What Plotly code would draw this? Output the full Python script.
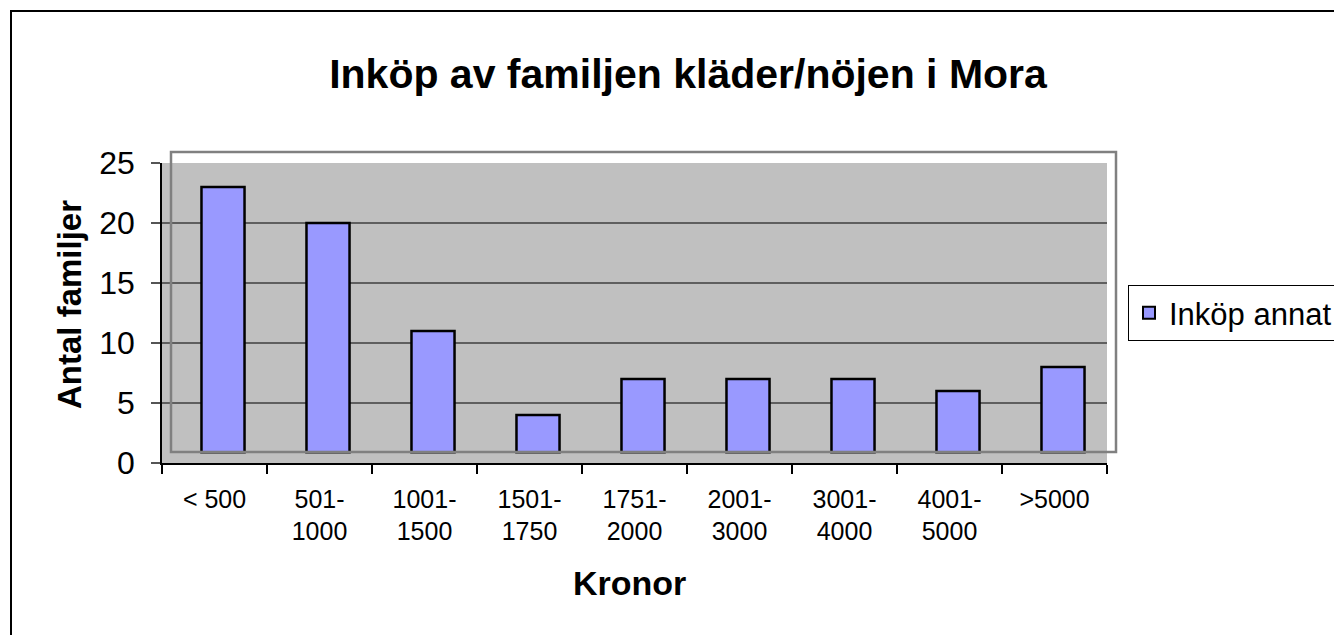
import plotly.graph_objects as go

categories = ["< 500", "501-<br>1000", "1001-<br>1500", "1501-<br>1750", "1751-<br>2000",
              "2001-<br>3000", "3001-<br>4000", "4001-<br>5000", ">5000"]
values = [23, 20, 11, 4, 7, 7, 7, 6, 8]
series_name = "Inköp annat"
y_ticks = [0, 5, 10, 15, 20, 25]

W, H = 1342, 635
OFF = 8  # page offset of the figure in the screenshot
# plot-area edges in screenshot pixels
L, R, T, B = 162, 1107, 163, 463
pw, ph = R - L, B - T

def px(x):
    return (x - L) / pw

def py(y):
    return (B - y) / ph

FONT = "Liberation Sans, Arial, sans-serif"
shift = 8.5 / (pw / len(categories))
BASE = 0.9

fig = go.Figure()
fig.add_trace(go.Bar(x=categories, y=[None] * len(categories), showlegend=False,
                     hoverinfo="skip", xaxis="x", yaxis="y"))
fig.add_trace(go.Bar(
    x=list(range(len(categories))), y=[v - BASE for v in values], name=series_name,
    base=BASE, width=0.41,
    marker=dict(color="#9999ff", line=dict(color="black", width=2.5)),
    xaxis="x2", yaxis="y",
))

fig.update_layout(
    width=W, height=H,
    margin=dict(l=L - OFF, r=W - (R - OFF), t=T - OFF, b=H - (B - OFF), autoexpand=False),
    paper_bgcolor="white", plot_bgcolor="#c0c0c0",
    font=dict(family=FONT, color="black"),
    showlegend=True,
    legend=dict(x=px(1128), xanchor="left", y=py(313), yanchor="middle",
                bordercolor="black", borderwidth=1, bgcolor="white",
                font=dict(size=31, family=FONT), itemsizing="constant",
                tracegroupgap=0),
    title=dict(text="<b>Inköp av familjen kläder/nöjen i Mora</b>", x=(688 - OFF) / W, xanchor="center",
               y=1 - (74 - OFF) / H, yanchor="middle", font=dict(size=41, family=FONT)),
    xaxis=dict(type="category", range=[-0.5, len(categories) - 0.5],
               showline=True, linecolor="black", linewidth=1.5,
               ticks="outside", ticklen=9, tickcolor="black", tickwidth=1.5,
               tickson="boundaries", showgrid=False, zeroline=False,
               tickfont=dict(size=25, family=FONT), ticklabelstandoff=13),
    xaxis2=dict(overlaying="x", range=[-0.5 - shift, len(categories) - 0.5 - shift],
                visible=False),
    yaxis=dict(range=[0, 25], tickvals=y_ticks, showline=True, linecolor="black", linewidth=1.5,
               ticks="outside", ticklen=9, tickcolor="#555", tickwidth=1.5,
               showgrid=True, gridcolor="#5f5f5f", gridwidth=1.5, zeroline=False,
               tickfont=dict(size=32, family=FONT), ticklabelstandoff=10),
    shapes=[
        dict(type="rect", xref="paper", yref="paper", x0=px(11), x1=px(1400), y0=py(700), y1=py(11),
             line=dict(color="black", width=2), layer="below"),
        dict(type="rect", xref="paper", yref="paper", x0=px(171), x1=px(1116), y0=py(452), y1=py(152),
             line=dict(color="#808080", width=2.5), layer="above"),
    ],
    annotations=[
        dict(text="<b>Antal familjer</b>", xref="paper", yref="paper", x=px(69), y=py(305),
             textangle=-90, showarrow=False, font=dict(size=33, family=FONT),
             xanchor="center", yanchor="middle"),
        dict(text="<b>Kronor</b>", xref="paper", yref="paper", x=px(629), y=py(583),
             showarrow=False, font=dict(size=34, family=FONT),
             xanchor="center", yanchor="middle"),
    ],
    bargap=0.59,
)
fig.write_html("out.html")
